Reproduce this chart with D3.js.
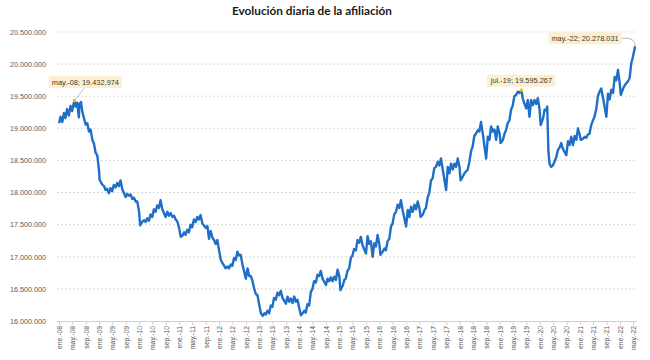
<!DOCTYPE html>
<html><head><meta charset="utf-8">
<script src="https://cdn.jsdelivr.net/npm/d3@7"></script>
<style>
html,body{margin:0;padding:0;background:#fff;}
svg{display:block;}
</style></head>
<body>
<svg id="chart" width="650" height="360"></svg>
<script>
const chartTitle = "Evolución diaria de la afiliación";

const yTickValues = [16, 16.5, 17, 17.5, 18, 18.5, 19, 19.5, 20, 20.5];
const yTickLabels = ["16.000.000","16.500.000","17.000.000","17.500.000","18.000.000","18.500.000","19.000.000","19.500.000","20.000.000","20.500.000"];

const xTickLabels = ["ene.-08","may.-08","sep.-08","ene.-09","may.-09","sep.-09","ene.-10","may.-10","sep.-10",
 "ene.-11","may.-11","sep.-11","ene.-12","may.-12","sep.-12","ene.-13","may.-13","sep.-13","ene.-14","may.-14","sep.-14",
 "ene.-15","may.-15","sep.-15","ene.-16","may.-16","sep.-16","ene.-17","may.-17","sep.-17","ene.-18","may.-18","sep.-18",
 "ene.-19","may.-19","sep.-19","ene.-20","may.-20","sep.-20","ene.-21","may.-21","sep.-21","ene.-22","may.-22"];

const dates = [
"2008-01-02","2008-01-15","2008-01-31","2008-02-15","2008-02-29","2008-03-15","2008-03-31","2008-04-15","2008-04-30","2008-05-20","2008-05-31","2008-06-15","2008-06-30",
"2008-07-05","2008-07-20","2008-07-31","2008-08-15","2008-08-31","2008-09-15","2008-09-30","2008-10-15","2008-10-31","2008-11-15","2008-11-30","2008-12-15","2008-12-31",
"2009-01-05","2009-01-31","2009-02-15","2009-02-28","2009-03-15","2009-03-31","2009-04-15","2009-04-30","2009-05-15","2009-05-31","2009-06-15","2009-06-30",
"2009-07-15","2009-07-31","2009-08-31","2009-09-15","2009-09-30","2009-10-15","2009-10-31","2009-11-15","2009-11-30","2009-12-15","2009-12-31",
"2010-01-10","2010-01-31","2010-02-15","2010-02-28","2010-03-15","2010-03-31","2010-04-15","2010-04-30","2010-05-15","2010-05-31","2010-06-15","2010-06-30",
"2010-07-15","2010-07-31","2010-08-31","2010-09-15","2010-09-30","2010-10-15","2010-10-31","2010-11-15","2010-11-30","2010-12-15","2010-12-31",
"2011-01-15","2011-01-31","2011-02-15","2011-02-28","2011-03-15","2011-03-31","2011-04-15","2011-04-30","2011-05-15","2011-05-31","2011-06-15","2011-06-30",
"2011-07-15","2011-07-31","2011-08-31","2011-09-15","2011-09-30","2011-10-15","2011-10-31","2011-11-15","2011-11-30","2011-12-15","2011-12-31",
"2012-01-15","2012-01-31","2012-02-15","2012-02-29","2012-03-15","2012-03-31","2012-04-15","2012-04-30","2012-05-15","2012-05-31","2012-06-15","2012-06-30",
"2012-07-15","2012-07-31","2012-08-31","2012-09-15","2012-09-30","2012-10-15","2012-10-31","2012-11-15","2012-11-30","2012-12-15","2012-12-31",
"2013-01-15","2013-01-31","2013-02-15","2013-02-28","2013-03-15","2013-03-31","2013-04-15","2013-04-30","2013-05-15","2013-05-31","2013-06-15","2013-06-30",
"2013-07-15","2013-07-31","2013-08-31","2013-09-15","2013-09-30","2013-10-15","2013-10-31","2013-11-15","2013-11-30","2013-12-15","2013-12-31",
"2014-01-15","2014-01-31","2014-02-15","2014-02-28","2014-03-15","2014-03-31","2014-04-15","2014-04-30","2014-05-15","2014-05-31","2014-06-15","2014-06-30",
"2014-07-15","2014-07-31","2014-08-31","2014-09-15","2014-09-30","2014-10-15","2014-10-31","2014-11-15","2014-11-30","2014-12-15","2014-12-31",
"2015-01-10","2015-01-31","2015-02-15","2015-02-28","2015-03-15","2015-03-31","2015-04-15","2015-04-30","2015-05-15","2015-05-31","2015-06-15","2015-06-30",
"2015-07-15","2015-07-31","2015-08-31","2015-09-15","2015-09-30","2015-10-15","2015-10-31","2015-11-15","2015-11-30","2015-12-15","2015-12-31",
"2016-01-10","2016-01-31","2016-02-15","2016-02-29","2016-03-15","2016-03-31","2016-04-15","2016-04-30","2016-05-15","2016-05-31","2016-06-15","2016-06-30",
"2016-07-15","2016-07-31","2016-08-31","2016-09-15","2016-09-30","2016-10-15","2016-10-31","2016-11-15","2016-11-30","2016-12-15","2016-12-31",
"2017-01-10","2017-01-31","2017-02-15","2017-02-28","2017-03-15","2017-03-31","2017-04-15","2017-04-30","2017-05-15","2017-05-31","2017-06-15","2017-06-30",
"2017-07-15","2017-07-31","2017-08-31","2017-09-15","2017-09-30","2017-10-15","2017-10-31","2017-11-15","2017-11-30","2017-12-15","2017-12-31",
"2018-01-10","2018-01-31","2018-02-15","2018-02-28","2018-03-15","2018-03-31","2018-04-15","2018-04-30","2018-05-15","2018-05-31","2018-06-15","2018-06-30",
"2018-07-15","2018-07-31","2018-08-31","2018-09-15","2018-09-30","2018-10-15","2018-10-31","2018-11-15","2018-11-30","2018-12-15","2018-12-31",
"2019-01-10","2019-01-31","2019-02-15","2019-02-28","2019-03-15","2019-03-31","2019-04-15","2019-04-30","2019-05-15","2019-05-31","2019-06-15","2019-06-30",
"2019-07-19","2019-07-31","2019-08-31","2019-09-15","2019-09-30","2019-10-15","2019-10-31","2019-11-15","2019-11-30","2019-12-15","2019-12-31",
"2020-01-10","2020-01-31","2020-02-15","2020-02-29","2020-03-10","2020-03-20","2020-03-31","2020-04-15","2020-04-30","2020-05-15","2020-05-31","2020-06-15","2020-06-30",
"2020-07-15","2020-07-31","2020-08-31","2020-09-15","2020-09-30","2020-10-15","2020-10-31","2020-11-15","2020-11-30","2020-12-15","2020-12-31",
"2021-01-10","2021-01-31","2021-02-15","2021-02-28","2021-03-15","2021-03-31","2021-04-15","2021-04-30","2021-05-15","2021-05-31","2021-06-15","2021-06-30",
"2021-07-15","2021-07-31","2021-08-31","2021-09-15","2021-09-30","2021-10-15","2021-10-31","2021-11-15","2021-11-30","2021-12-15","2021-12-31",
"2022-01-10","2022-01-31","2022-02-15","2022-02-28","2022-03-15","2022-03-31","2022-04-15","2022-04-30","2022-05-20"
];

const affiliationMillions = [
19.08,19.18,19.10,19.24,19.16,19.30,19.20,19.35,19.27,19.433,19.34,19.40,19.17,
19.38,19.41,19.26,19.16,19.06,19.08,18.95,18.98,18.82,18.76,18.62,18.58,18.35,
18.20,18.12,18.10,18.04,18.06,17.99,18.07,18.02,18.12,18.08,18.15,18.10,
18.19,18.05,17.93,17.98,17.95,17.97,17.90,17.92,17.86,17.86,17.70,
17.49,17.55,17.57,17.54,17.60,17.56,17.66,17.62,17.74,17.70,17.80,17.76,
17.88,17.74,17.62,17.70,17.64,17.68,17.62,17.64,17.58,17.55,17.45,
17.31,17.33,17.38,17.34,17.42,17.38,17.50,17.46,17.58,17.54,17.62,17.58,
17.65,17.52,17.45,17.48,17.28,17.40,17.30,17.26,17.20,17.26,17.10,
16.95,16.90,16.86,16.82,16.85,16.82,16.88,16.86,16.98,16.95,17.08,17.02,
17.03,16.88,16.66,16.82,16.70,16.70,16.62,16.50,16.42,16.40,16.25,
16.12,16.08,16.12,16.10,16.16,16.12,16.24,16.22,16.36,16.33,16.44,16.40,
16.47,16.36,16.27,16.38,16.30,16.35,16.28,16.38,16.30,16.33,16.20,
16.09,16.12,16.16,16.13,16.26,16.24,16.45,16.50,16.62,16.60,16.72,16.70,
16.78,16.66,16.56,16.66,16.62,16.68,16.62,16.69,16.64,16.80,16.70,
16.48,16.55,16.64,16.66,16.78,16.82,16.98,17.02,17.12,17.10,17.26,17.22,
17.31,17.18,17.05,17.32,17.20,17.24,17.00,17.21,17.16,17.34,17.20,
17.03,17.08,17.13,17.10,17.24,17.28,17.47,17.52,17.66,17.70,17.81,17.76,
17.88,17.72,17.47,17.73,17.62,17.78,17.70,17.81,17.74,17.86,17.75,
17.62,17.66,17.73,17.76,17.92,18.00,18.19,18.22,18.38,18.40,18.48,18.42,
18.53,18.36,18.04,18.40,18.30,18.45,18.36,18.45,18.40,18.53,18.40,
18.19,18.25,18.30,18.33,18.35,18.48,18.64,18.72,18.88,18.92,18.97,18.95,
19.10,18.92,18.53,18.87,18.82,19.03,18.95,18.98,18.82,19.03,18.92,
18.77,18.82,18.92,18.97,19.08,19.12,19.29,19.35,19.50,19.52,19.57,19.55,
19.595,19.46,19.31,19.44,19.18,19.44,19.36,19.44,19.38,19.47,19.30,
19.05,19.15,19.29,19.28,19.34,18.66,18.45,18.40,18.42,18.48,18.55,18.66,18.70,
18.77,18.68,18.58,18.80,18.74,18.87,18.74,18.88,18.82,19.00,18.90,
18.82,18.84,18.87,18.85,18.90,18.92,19.05,19.12,19.18,19.30,19.50,19.57,
19.62,19.48,19.18,19.54,19.45,19.60,19.55,19.80,19.75,19.91,19.70,
19.52,19.62,19.67,19.70,19.73,19.78,20.01,20.11,20.278
];

const annotationDates = ["2008-05-20","2019-07-19","2022-05-20"];
const annotationLabels = ["may.-08; 19.432.974","jul.-19; 19.595.267","may.-22; 20.278.031"];

// ---------- drawing ----------
const svg = d3.select("#chart");
const parse = d3.timeParse("%Y-%m-%d");
const data = dates.map((d,i)=>({date: parse(d), value: affiliationMillions[i]}));

const plotLeft = 57, plotRight = 637, plotTop = 32, plotBottom = 321;
const x = d3.scaleTime().domain([new Date(2008,0,1), new Date(2022,4,1)]).range([59, 633]);
const y = d3.scaleLinear().domain([16, 20.5]).range([plotBottom, plotTop]);

const fontFam = "'Liberation Sans', Arial, sans-serif";

// title
const title = svg.append("text")
  .attr("x", 312).attr("y", 15)
  .attr("text-anchor","middle")
  .style("font-family","Lato, 'Liberation Sans', sans-serif")
  .style("font-weight","bold").style("font-size","12px")
  .attr("fill","#1a1a1a")
  .text(chartTitle);
{
  const w = title.node().getComputedTextLength();
  const fs = 12 * 160 / w;
  title.style("font-size", fs.toFixed(2)+"px");
}

// gridlines
svg.append("g").selectAll("line").data(yTickValues.filter(v=>v>16)).join("line")
  .attr("x1", plotLeft).attr("x2", plotRight)
  .attr("y1", d=>y(d)).attr("y2", d=>y(d))
  .attr("stroke","#d9d9d9").attr("stroke-width",1).attr("stroke-dasharray","2,2");

// y axis labels
const yAxis = d3.axisLeft(y).tickValues(yTickValues)
  .tickFormat((d,i)=>yTickLabels[i]).tickSize(0).tickPadding(0);
const gy = svg.append("g").attr("transform","translate(46,0)").call(yAxis);
gy.select(".domain").remove();
gy.selectAll("text").style("font-family",fontFam).style("font-size","7.2px").attr("fill","#595959");

// x axis
const xTickDates = xTickLabels.map((_,i)=>new Date(2008, i*4, 1));
const xAxis = d3.axisBottom(x).tickValues(xTickDates)
  .tickFormat((d,i)=>xTickLabels[i]).tickSize(4).tickSizeOuter(0).tickPadding(3);
const gx = svg.append("g").attr("transform",`translate(0,${plotBottom})`).call(xAxis);
gx.select(".domain").attr("d", `M${plotLeft},0.5H${plotRight}`).attr("stroke","#d0d0d0");
gx.selectAll(".tick line").attr("stroke","#d0d0d0");
gx.selectAll("text")
  .style("font-family",fontFam).style("font-size","6.8px").attr("fill","#595959")
  .attr("text-anchor","end")
  .attr("transform","rotate(-90)")
  .attr("x",-5).attr("y",0).attr("dy","0.35em");

// line
const line = d3.line().x(d=>x(d.date)).y(d=>y(d.value)).curve(d3.curveLinear);
svg.append("path").datum(data)
  .attr("d", line).attr("fill","none")
  .attr("stroke","#1f6fc6").attr("stroke-width",2.4).attr("stroke-linejoin","round");

// annotations
const offsets = [[11,-18.5],[0,-9.5],[-50,-8]];
annotationDates.forEach((ds,i)=>{
  const idx = dates.indexOf(ds);
  const px = x(data[idx].date), py = y(data[idx].value);
  const [ox, oy] = offsets[i];
  const g = svg.append("g");
  const t = g.append("text")
    .attr("x", px+ox).attr("y", py+oy).attr("dy","0.35em")
    .attr("text-anchor","middle")
    .style("font-family",fontFam).style("font-size","7.4px")
    .attr("fill","#3a3a3a").text(annotationLabels[i]);
  const bb = t.node().getBBox();
  g.insert("rect","text")
    .attr("x", bb.x-3).attr("y", bb.y-1.5).attr("width", bb.width+6).attr("height", bb.height+3)
    .attr("fill","#fcefcf");
  if(i===0){
    g.append("line").attr("x1", px+10).attr("y1", bb.y+bb.height+1.5)
      .attr("x2", px+1).attr("y2", py-1).attr("stroke","#a6a6a6").attr("stroke-width",0.8);
  }
  if(i===2){
    const bx = bb.x+bb.width+3, by = py+oy;
    g.append("path").attr("d", `M${bx},${by}H${bx+6}Q${px},${by+1} ${px},${py}`)
      .attr("fill","none").attr("stroke","#a6a6a6").attr("stroke-width",0.8);
  } else {
    svg.append("rect").attr("x",px-1.5).attr("y",py-1.5).attr("width",3).attr("height",3)
      .attr("fill","#ffc000");
  }
});
</script>
</body></html>
